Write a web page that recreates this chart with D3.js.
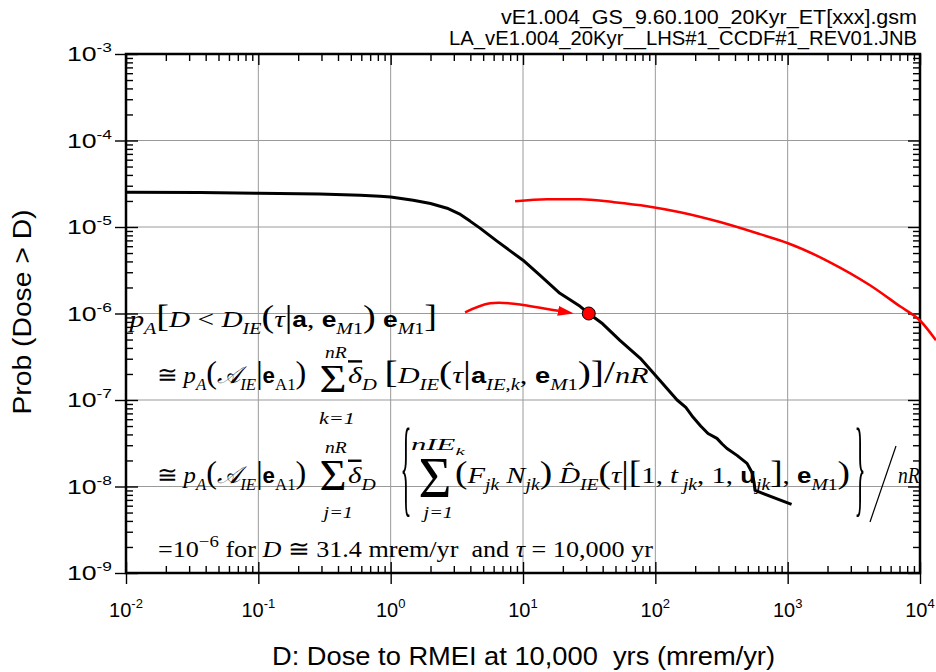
<!DOCTYPE html>
<html><head><meta charset="utf-8">
<script src="https://cdn.jsdelivr.net/npm/d3@7"></script>
<style>body{margin:0;background:#fff}svg{display:block}</style>
</head><body>
<svg id="c" width="936" height="672"></svg>
<script>
// ---------- data ----------
const titleLines = ["vE1.004_GS_9.60.100_20Kyr_ET[xxx].gsm", "LA_vE1.004_20Kyr__LHS#1_CCDF#1_REV01.JNB"];
const xLabel = "D: Dose to RMEI at 10,000  yrs (mrem/yr)";
const yLabel = "Prob (Dose > D)";
const xTickExps = [-2, -1, 0, 1, 2, 3, 4];
const yTickExps = [-3, -4, -5, -6, -7, -8, -9];

const ccdfDose = [0.01, 0.036, 0.1, 0.29, 0.59, 0.83, 1.0, 1.48, 2.0, 2.67, 3.3, 3.98, 4.73, 6.36, 8.0, 10, 13.4, 19.0, 27.0, 31.4, 40, 54, 77, 108, 146, 170, 193, 220, 250, 292, 320, 348, 414, 493, 538, 557, 567, 1070];
const ccdfProb = [2.53e-5, 2.50e-5, 2.46e-5, 2.40e-5, 2.33e-5, 2.27e-5, 2.22e-5, 2.04e-5, 1.87e-5, 1.65e-5, 1.42e-5, 1.17e-5, 9.7e-6, 6.86e-6, 5.3e-6, 4.13e-6, 2.77e-6, 1.71e-6, 1.21e-6, 1.0e-6, 7.6e-7, 4.9e-7, 3.03e-7, 1.69e-7, 1.0e-7, 8.2e-8, 6.3e-8, 5.0e-8, 4.1e-8, 3.6e-8, 3.1e-8, 2.75e-8, 2.29e-8, 1.85e-8, 1.45e-8, 1.12e-8, 9.0e-9, 6.2e-9];

const redDose = [8.71, 15.2, 27.0, 47.9, 86.5, 154, 308, 618, 1006, 2090, 4190, 7060, 10000, 13200];
const redProb = [1.99e-5, 2.10e-5, 2.10e-5, 1.94e-5, 1.74e-5, 1.48e-5, 1.14e-5, 8.26e-6, 6.49e-6, 3.91e-6, 2.12e-6, 1.21e-6, 8.3e-7, 4.9e-7];

const arrowDose = [3.65, 5.64, 9.5, 18.4];
const arrowProb = [1.03e-6, 1.31e-6, 1.27e-6, 1.074e-6];

const pointDose = [31.4];
const pointProb = [1e-6];

// ---------- setup ----------
const serif = "'Liberation Serif','Times New Roman',serif";
const sans = "'Liberation Sans',Arial,Helvetica,sans-serif";
const svg = d3.select("#c");
const L = 126, R = 920, T = 54, B = 573;
const x = d3.scaleLog().domain([1e-2, 1e4]).range([L, R]);
const y = d3.scaleLog().domain([1e-9, 1e-3]).range([B, T]);

const xMajor = xTickExps.map(e => Math.pow(10, e));
const yMajor = yTickExps.map(e => Math.pow(10, e));
const xMinor = [], yMinor = [];
for (let e = -2; e < 4; e++) for (let k = 2; k <= 9; k++) xMinor.push(k * Math.pow(10, e));
for (let e = -9; e < -3; e++) for (let k = 2; k <= 9; k++) yMinor.push(k * Math.pow(10, e));

// grid
const grid = svg.append("g").attr("stroke", "#9a9a9a").attr("stroke-width", 1);
grid.selectAll(".vx").data(xMajor.slice(1, -1)).join("line")
  .attr("x1", d => x(d)).attr("x2", d => x(d)).attr("y1", T).attr("y2", B);
grid.selectAll(".hy").data(yMajor.slice(1, -1)).join("line")
  .attr("y1", d => y(d)).attr("y2", d => y(d)).attr("x1", L).attr("x2", R);

// ticks via axes
function ax(gen, tx, ty) {
  const g = svg.append("g").attr("transform", `translate(${tx},${ty})`).call(gen);
  g.select(".domain").remove();
  g.selectAll("text").remove();
  g.selectAll("line").attr("stroke", "#000").attr("stroke-width", 1.4);
  return g;
}
ax(d3.axisBottom(x).tickValues(xMajor).tickSize(11), 0, B);
ax(d3.axisBottom(x).tickValues(xMajor).tickSize(-11), 0, B);
ax(d3.axisBottom(x).tickValues(xMinor).tickSize(-7), 0, B);
ax(d3.axisTop(x).tickValues(xMinor).tickSize(-7), 0, T);
ax(d3.axisTop(x).tickValues(xMajor).tickSize(-11), 0, T);
ax(d3.axisLeft(y).tickValues(yMajor).tickSize(11), L, 0);
ax(d3.axisLeft(y).tickValues(yMajor).tickSize(-12), L, 0);
ax(d3.axisLeft(y).tickValues(yMinor).tickSize(-7), L, 0);
ax(d3.axisRight(y).tickValues(yMinor).tickSize(-7), R, 0);
ax(d3.axisRight(y).tickValues(yMajor).tickSize(-12), R, 0);

// frame
svg.append("rect").attr("x", L).attr("y", T).attr("width", R - L).attr("height", B - T)
  .attr("fill", "none").attr("stroke", "#000").attr("stroke-width", 2.5);

// tick labels
const xl = svg.append("g").attr("font-family", sans).attr("font-size", 20).attr("fill", "#000");
xTickExps.forEach(e => {
  const t = xl.append("text").attr("x", x(Math.pow(10, e))).attr("y", 617).attr("text-anchor", "middle");
  t.append("tspan").text("10");
  t.append("tspan").attr("dy", -9).attr("font-size", 13).text(String(e));
});
const yl = svg.append("g").attr("font-family", sans).attr("font-size", 20).attr("fill", "#000");
yTickExps.forEach(e => {
  const t = yl.append("text").attr("x", 112).attr("y", y(Math.pow(10, e)) + 7).attr("text-anchor", "end")
    .attr("textLength", 45).attr("lengthAdjust", "spacingAndGlyphs");
  t.append("tspan").text("10");
  t.append("tspan").attr("dy", -9).attr("font-size", 13).text(String(e));
});

// axis titles
svg.append("text").attr("x", 523.5).attr("y", 665).attr("text-anchor", "middle")
  .attr("font-family", sans).attr("font-size", 26).attr("textLength", 503).attr("lengthAdjust", "spacingAndGlyphs")
  .style("white-space", "pre").text(xLabel);
svg.append("text").attr("transform", "translate(31,312) rotate(-90)").attr("text-anchor", "middle")
  .attr("font-family", sans).attr("font-size", 26).attr("textLength", 205).attr("lengthAdjust", "spacingAndGlyphs")
  .text(yLabel);

// title lines
const tl = svg.append("g").attr("font-family", sans).attr("font-size", 20);
tl.append("text").attr("x", 917).attr("y", 24).attr("text-anchor", "end")
  .attr("textLength", 416).attr("lengthAdjust", "spacingAndGlyphs").text(titleLines[0]);
tl.append("text").attr("x", 917).attr("y", 45).attr("text-anchor", "end")
  .attr("textLength", 468).attr("lengthAdjust", "spacingAndGlyphs").text(titleLines[1]);

// ---------- curves ----------
const ccdf = ccdfDose.map((d, i) => [d, ccdfProb[i]]);
const red = redDose.map((d, i) => [d, redProb[i]]);
const arrow = arrowDose.map((d, i) => [d, arrowProb[i]]);

svg.append("path").datum(ccdf).attr("d", d3.line().x(d => x(d[0])).y(d => y(d[1])))
  .attr("fill", "none").attr("stroke", "#000").attr("stroke-width", 3).attr("stroke-linejoin", "round");
svg.append("path").datum(red).attr("d", d3.line().x(d => x(d[0])).y(d => y(d[1])).curve(d3.curveMonotoneX))
  .attr("fill", "none").attr("stroke", "#ff0000").attr("stroke-width", 2.5);

const defs = svg.append("defs");
defs.append("marker").attr("id", "ah").attr("markerUnits", "userSpaceOnUse")
  .attr("markerWidth", 18).attr("markerHeight", 12).attr("refX", 0).attr("refY", 5)
  .attr("orient", "auto").append("path").attr("d", "M0,0 L16,5 L0,10 Z").attr("fill", "#ff0000");
svg.append("path").datum(arrow).attr("d", d3.line().x(d => x(d[0])).y(d => y(d[1])).curve(d3.curveNatural))
  .attr("fill", "none").attr("stroke", "#ff0000").attr("stroke-width", 2.5).attr("marker-end", "url(#ah)");

svg.selectAll(".pt").data(pointDose).join("circle")
  .attr("cx", d => x(d)).attr("cy", (d, i) => y(pointProb[i])).attr("r", 6.5)
  .attr("fill", "#ff0000").attr("stroke", "#000").attr("stroke-width", 1);

// ---------- equation annotation ----------
const eqg = svg.append("g").attr("fill", "#000");
function fitX(t, x0, x1) {
  const b = t.node().getBBox();
  const s = (x1 - x0) / b.width;
  t.attr("transform", `translate(${x0 - b.x * s},0) scale(${s},1)`);
}
function eqText(tokens, baseline, x0, x1, size = 24) {
  const t = eqg.append("text").attr("x", 0).attr("y", baseline).style("white-space", "pre")
    .attr("font-family", serif).attr("font-size", size);
  let off = 0;
  for (const [s, st] of tokens) {
    let fam = serif, fs = size, fst = "normal", fw = "normal", tgt = 0;
    if (st.includes("i")) fst = "italic";
    if (st.includes("b")) { fam = sans; fw = "bold"; fs = size * 0.9; }
    if (st.includes("_")) { tgt = size * 0.3; fs = size * 0.68; }
    if (st.includes("^")) { tgt = -size * 0.42; fs = size * 0.72; }
    if (st.includes("L")) { fs = size * 1.3; }
    const sp = t.append("tspan").attr("dy", tgt - off).attr("font-family", fam).attr("font-size", fs)
      .attr("font-style", fst).attr("font-weight", fw).text(s);
    if (st.includes("o")) sp.style("text-decoration", "overline");
    off = tgt;
  }
  fitX(t, x0, x1);
  return t;
}
function glyph(ch, cx, baseline, size, w, style = "normal") {
  const t = eqg.append("text").attr("x", 0).attr("y", baseline).attr("font-family", serif)
    .attr("font-size", size).attr("font-style", style).style("white-space", "pre").text(ch);
  const b = t.node().getBBox();
  const s = w / b.width;
  t.attr("transform", `translate(${cx - (b.x + b.width / 2) * s},0) scale(${s},1)`);
  return t;
}

const pA = [["≅ ", "r"], ["p", "i"], ["A", "i_"], ["(", "L"], ["𝒜", "i"], ["IE", "i_"], ["|", "L"], ["e", "b"], ["A1", "r_"], [")", "L"]];

// line 1
eqText([["p", "i"], ["A", "i_"], ["[", "L"], ["D", "i"], [" < ", "r"], ["D", "i"], ["IE", "i_"], ["(", "L"], ["τ", "i"], ["|", "L"],
  ["a", "b"], [", ", "r"], ["e", "b"], ["M", "i_"], ["1", "r_"], [")", "L"], [" ", "r"], ["e", "b"], ["M", "i_"], ["1", "r_"], ["]", "L"]],
  327, 127, 437);

// line 2
eqText(pA, 383, 157, 307);
glyph("Σ", 333, 392, 40, 27);
glyph("nR", 336, 358, 16, 22, "italic");
glyph("k=1", 337, 424, 16, 36, "italic");
eqText([["δ", "io"], ["D", "i_"], [" ", "r"], ["[", "L"], ["D", "i"], ["IE", "i_"], ["(", "L"], ["τ", "i"], ["|", "L"], ["a", "b"], ["IE,k", "i_"],
  [", ", "r"], ["e", "b"], ["M", "i_"], ["1", "r_"], [")", "L"], ["]", "L"], ["/", "L"], ["nR", "i"]], 383, 348, 649);

// line 3
eqText(pA, 483, 157, 307);
glyph("Σ", 333, 490, 44, 27);
glyph("nR", 336, 453, 16, 22, "italic");
glyph("j=1", 337, 518, 16, 32, "italic");
eqText([["δ", "io"], ["D", "i_"]], 483, 348, 376);
glyph("{", 406, 503, 107, 11);
glyph("Σ", 435, 497, 56, 33);
eqText([["nIE", "i"], ["k", "i_"]], 450, 411, 465, 16);
glyph("j=1", 437, 518, 16, 32, "italic");
eqText([["(", "L"], ["F", "i"], ["jk", "i_"], [" ", "r"], ["N", "i"], ["jk", "i_"], [")", "L"], [" ", "r"], ["D\u0302", "i"], ["IE", "i_"], ["(", "L"],
  ["τ", "i"], ["|", "L"], ["[", "L"], ["1", "r"], [", ", "r"], ["t", "i"], [" jk", "i_"], [", 1, ", "r"], ["u", "b"], ["jk", "i_"], ["]", "L"],
  [", ", "r"], ["e", "b"], ["M", "i_"], ["1", "r_"], [")", "L"]], 483, 455, 850);
glyph("}", 860, 503, 107, 11);
eqg.append("line").attr("x1", 896).attr("y1", 446).attr("x2", 870).attr("y2", 522).attr("stroke", "#000").attr("stroke-width", 1.2);
eqText([["nR", "i"]], 483, 898, 920);

// line 4
eqText([["=10", "r"], ["−6", "r^"], [" for ", "r"], ["D", "i"], [" ≅ 31.4 mrem/yr  and ", "r"], ["τ", "i"], [" = 10,000 yr", "r"]], 557, 158, 653);
</script>
</body></html>
